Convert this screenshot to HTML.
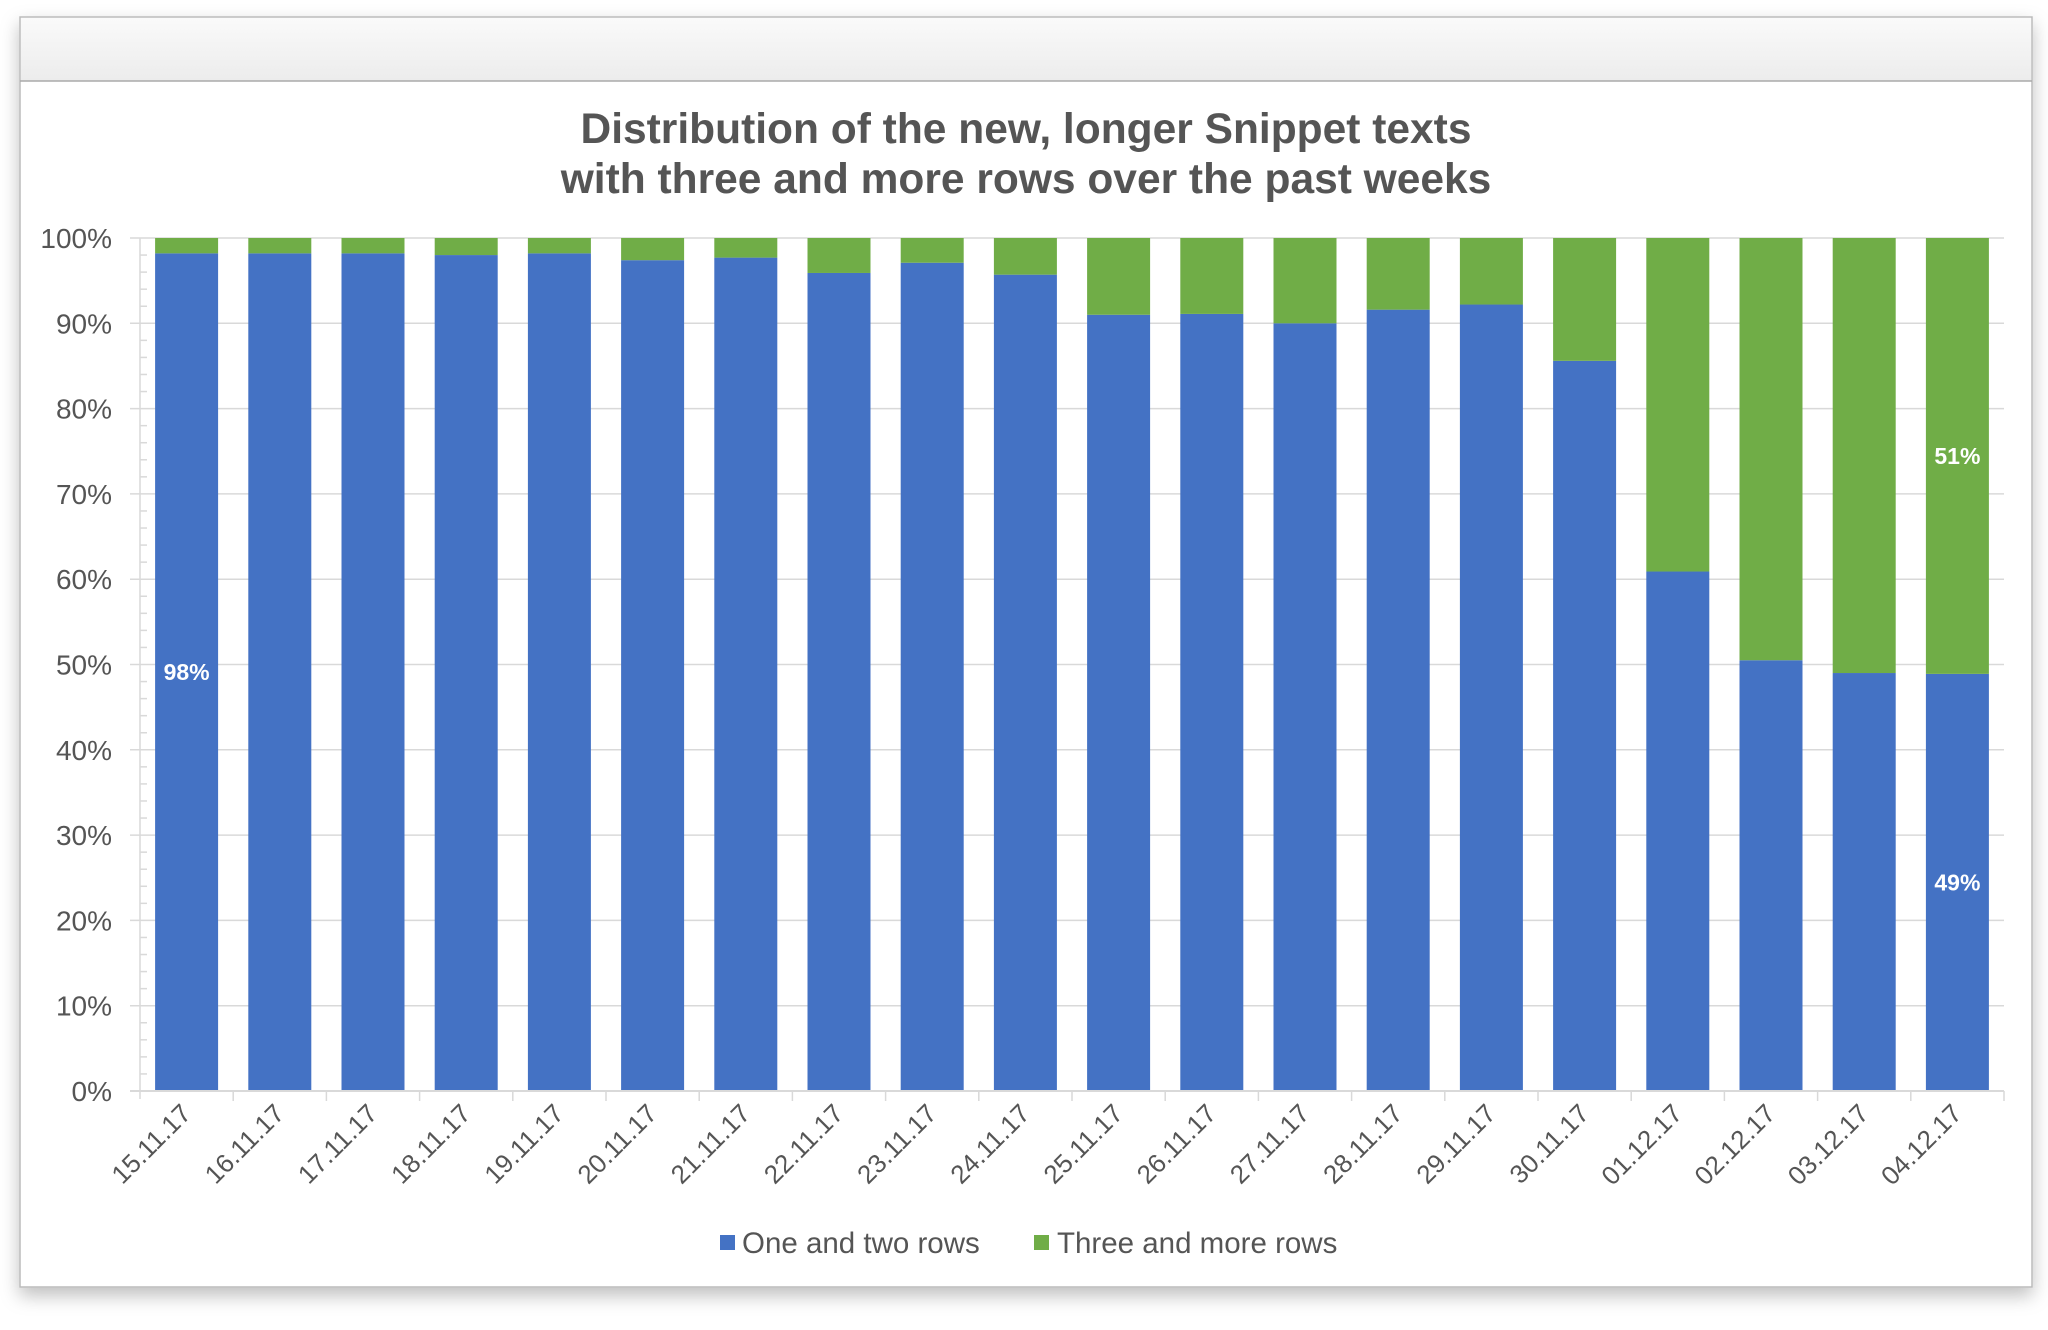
<!DOCTYPE html>
<html><head><meta charset="utf-8"><style>
html,body{margin:0;padding:0;background:#fff;width:2048px;height:1330px;overflow:hidden}
svg{display:block;font-family:"Liberation Sans",Arial,sans-serif}
</style></head><body>
<svg id="chart" width="2048" height="1330" viewBox="0 0 2048 1330">
<defs>
<filter id="sh" x="-5%" y="-5%" width="110%" height="115%"><feDropShadow dx="0" dy="8" stdDeviation="9" flood-color="#000" flood-opacity="0.25"/></filter>
<linearGradient id="hd" x1="0" y1="0" x2="0" y2="1"><stop offset="0" stop-color="#fafafa"/><stop offset="1" stop-color="#ececec"/></linearGradient>
</defs>
<rect x="20" y="17" width="2012" height="1270" fill="#fff" stroke="#bbb" stroke-width="1.5" filter="url(#sh)"/>
<rect x="21" y="18" width="2010" height="63" fill="url(#hd)"/>
<line x1="20" y1="81" x2="2032" y2="81" stroke="#aaa" stroke-width="1.5"/>
<text x="1026" y="143" text-anchor="middle" font-size="42.5" font-weight="bold" fill="#555">Distribution of the new, longer Snippet texts</text>
<text x="1026" y="193" text-anchor="middle" font-size="42.5" font-weight="bold" fill="#555">with three and more rows over the past weeks</text>
<g id="grid"></g><g id="bars"></g><g id="axes"></g>
<g>
<rect x="720" y="1235" width="15" height="15" fill="#4472c4"/>
<text x="742" y="1253" font-size="29.5" fill="#555">One and two rows</text>
<rect x="1034" y="1235" width="15" height="15" fill="#70ad47"/>
<text x="1057" y="1253" font-size="29.5" fill="#555">Three and more rows</text>
</g>
</svg>
<script>
const categories=["15.11.17","16.11.17","17.11.17","18.11.17","19.11.17","20.11.17","21.11.17","22.11.17","23.11.17","24.11.17","25.11.17","26.11.17","27.11.17","28.11.17","29.11.17","30.11.17","01.12.17","02.12.17","03.12.17","04.12.17"];
const oneTwoRows=[98.2,98.2,98.2,98.0,98.2,97.4,97.7,95.9,97.1,95.7,91.0,91.1,90.0,91.6,92.2,85.6,60.9,50.5,49.0,48.9];
const threeMoreRows=oneTwoRows.map(v=>100-v);
const yTicks=[0,10,20,30,40,50,60,70,80,90,100];
const labelsShown=[{i:0,s:0,t:"98%"},{i:19,s:0,t:"49%"},{i:19,s:1,t:"51%"}];
const NS="http://www.w3.org/2000/svg";
const X0=140,X1=2004,Y0=1091,Y1=238;
const step=(X1-X0)/categories.length,bw=63;
const y=v=>Y0-(Y0-Y1)*v/100;
const xc=i=>X0+step*(i+0.5);
function mk(tag,attrs,parent){const e=document.createElementNS(NS,tag);for(const k in attrs)e.setAttribute(k,attrs[k]);parent.appendChild(e);return e;}
const grid=document.getElementById('grid'),bars=document.getElementById('bars'),axes=document.getElementById('axes');
yTicks.forEach(t=>{
 const l=mk('line',{x1:X0-10,x2:X1,y1:y(t),y2:y(t),stroke:'#d9d9d9','stroke-width':1.5},grid);
 
 
 const tx=mk('text',{x:112,y:y(t)+10,'text-anchor':'end','font-size':28,fill:'#555'},axes);
 tx.textContent=t+'%';
 
 
});
for(let v=0;v<100;v+=2){if(v%10)mk('line',{x1:X0,x2:X0+7,y1:y(v),y2:y(v),stroke:'#d9d9d9','stroke-width':1.5},axes);}
mk('line',{x1:X0,x2:X0,y1:Y1,y2:Y0+8,stroke:'#d9d9d9','stroke-width':1.5},axes);
categories.forEach((c,i)=>{
 const a=oneTwoRows[i],b=threeMoreRows[i];
 const r1=mk('rect',{x:xc(i)-bw/2,y:y(a),width:bw,height:Y0-y(a),fill:'#4472c4'},bars);
 
 
 const r2=mk('rect',{x:xc(i)-bw/2,y:y(a+b),width:bw,height:y(a)-y(a+b),fill:'#70ad47'},bars);
 
 
 mk('line',{x1:X0+step*(i+1),x2:X0+step*(i+1),y1:Y0,y2:Y0+10,stroke:'#d9d9d9','stroke-width':1.5},axes);
 const tx=mk('text',{x:xc(i)+6,y:Y0+24,'text-anchor':'end','font-size':26,fill:'#555',transform:`rotate(-45 ${xc(i)+6} ${Y0+24})`},axes);
 tx.textContent=c;
 
 
});
mk('line',{x1:X0-10,x2:X1,y1:Y0,y2:Y0,stroke:'#d9d9d9','stroke-width':2},axes);
labelsShown.forEach(L=>{
 const a=oneTwoRows[L.i];
 const cy=L.s===0?(y(a)+Y0)/2:(y(100)+y(a))/2;
 const tx=mk('text',{x:xc(L.i),y:cy+8,'text-anchor':'middle','font-size':23,'font-weight':'bold',fill:'#fff'},bars);
 tx.textContent=L.t;
 
 
});
</script>
</body></html>
